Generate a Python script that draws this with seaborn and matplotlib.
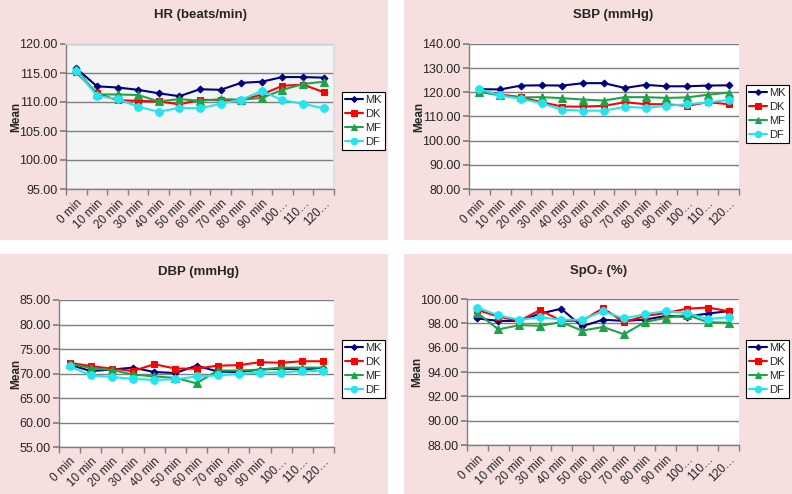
import matplotlib
matplotlib.use("Agg")
import matplotlib.pyplot as plt
from matplotlib.patches import Rectangle
from matplotlib.ticker import FixedLocator, FuncFormatter
import seaborn as sns
import pandas as pd
import numpy as np

# categorie (tempo)
times = ["0 min", "10 min", "20 min", "30 min", "40 min", "50 min", "60 min",
         "70 min", "80 min", "90 min", "100…", "110…", "120…"]
groups = ["MK", "DK", "MF", "DF"]

# HR (beats/min)
hr_mk = [115.8, 112.7, 112.5, 112.1, 111.5, 111.0, 112.2, 112.1, 113.3, 113.5, 114.3, 114.3, 114.2]
hr_dk = [115.1, 111.5, 110.3, 110.2, 110.1, 109.6, 110.4, 110.3, 110.3, 111.3, 112.8, 113.0, 111.7]
hr_mf = [115.7, 111.3, 111.3, 111.2, 110.1, 110.5, 110.2, 110.5, 110.4, 110.7, 112.1, 113.1, 113.5]
hr_df = [115.4, 111.1, 110.5, 109.2, 108.3, 109.0, 108.9, 109.7, 110.4, 111.9, 110.3, 109.7, 108.9]

# SBP (mmHg)
sbp_mk = [121.3, 121.2, 122.8, 122.9, 122.8, 123.8, 123.8, 121.8, 123.1, 122.5, 122.5, 122.8, 122.9]
sbp_dk = [120.5, 119.1, 118.0, 115.9, 114.1, 114.1, 114.4, 115.9, 115.1, 115.1, 114.4, 115.9, 115.1]
sbp_mf = [120.2, 118.7, 117.9, 118.0, 117.6, 117.0, 116.6, 118.0, 118.0, 117.7, 117.9, 119.0, 119.9]
sbp_df = [121.3, 118.7, 117.3, 115.5, 112.8, 112.4, 112.4, 114.0, 113.6, 114.4, 115.1, 115.8, 116.9]

# DBP (mmHg)
dbp_mk = [71.8, 70.5, 70.8, 71.2, 70.3, 70.1, 71.6, 70.4, 70.3, 70.8, 71.0, 70.8, 71.2]
dbp_dk = [72.2, 71.5, 71.0, 70.5, 71.9, 71.0, 71.0, 71.6, 71.7, 72.3, 72.2, 72.5, 72.5]
dbp_mf = [72.0, 71.1, 70.7, 69.8, 69.4, 69.1, 68.0, 70.6, 70.6, 70.8, 71.2, 71.2, 71.2]
dbp_df = [71.5, 69.6, 69.3, 68.9, 68.7, 68.8, 69.4, 69.6, 69.9, 70.2, 70.2, 70.5, 70.5]

# SpO2 (%)
spo2_mk = [98.4, 98.2, 98.2, 98.8, 99.2, 97.75, 98.3, 98.2, 98.3, 98.6, 98.55, 98.8, 99.0]
spo2_dk = [99.1, 98.55, 98.2, 99.1, 98.2, 98.2, 99.25, 98.1, 98.6, 98.85, 99.2, 99.3, 99.0]
spo2_mf = [98.85, 97.5, 97.85, 97.8, 98.1, 97.4, 97.7, 97.1, 98.1, 98.45, 98.7, 98.1, 98.05]
spo2_df = [99.3, 98.65, 98.3, 98.5, 98.3, 98.3, 99.0, 98.4, 98.75, 99.0, 98.85, 98.35, 98.5]

palette = {"MK": "#000080", "DK": "#FF0000", "MF": "#1FA34A", "DF": "#22E5F0"}
markers = {"MK": "D", "DK": "s", "MF": "^", "DF": "o"}
msizes = {"MK": 3.5, "DK": 5, "MF": 5.5, "DF": 5.5}

W, H = 792, 494
PINK = "#F5DFDF"

sns.set_theme(style="white")
plt.rcParams["font.family"] = ["Liberation Sans", "DejaVu Sans"]

fig = plt.figure(figsize=(W / 100, H / 100), dpi=100)
fig.patch.set_facecolor("white")

# sfondi rosa dei pannelli
for (x0, y0, w, h) in [(0, 0, 388, 240), (404, 0, 388, 240), (0, 254, 388, 240), (404, 254, 388, 240)]:
    fig.patches.append(Rectangle((x0 / W, 1 - (y0 + h) / H), w / W, h / H,
                                 transform=fig.transFigure, facecolor=PINK, edgecolor="none", zorder=-10))


def make_df(mk, dk, mf, df):
    rows = []
    for g, vals in zip(groups, [mk, dk, mf, df]):
        for i, v in enumerate(vals):
            rows.append({"pos": i, "time": times[i], "group": g, "Mean": v})
    return pd.DataFrame(rows)


def panel(rect_px, data, title, title_px, ylim, ystep, legend_px, plot_bg="white"):
    x0, y0, x1, y1 = rect_px
    ax = fig.add_axes([x0 / W, 1 - y1 / H, (x1 - x0) / W, (y1 - y0) / H])
    ax.set_zorder(1)
    ax.set_facecolor(plot_bg)
    for g in groups:
        sub = data[data["group"] == g]
        sns.lineplot(data=sub, x="pos", y="Mean", ax=ax, color=palette[g], marker=markers[g],
                     markersize=msizes[g], markeredgecolor=palette[g], linewidth=1.5,
                     label=g, legend=False, zorder=3)
    ax.set_xlim(-0.5, len(times) - 0.5)
    ax.set_ylim(*ylim)
    yt = np.arange(ylim[0], ylim[1] + 0.001, ystep)
    ax.set_yticks(yt)
    ax.yaxis.set_major_formatter(FuncFormatter(lambda v, p: f"{v:.2f}"))
    ax.yaxis.grid(True, color="#7F7F7F", linewidth=1)
    ax.xaxis.grid(False)
    ax.set_axisbelow(True)
    ax.set_xticks(range(len(times)))
    ax.set_xticklabels(times, rotation=45, ha="right", rotation_mode="anchor", fontsize=8.5)
    ax.xaxis.set_minor_locator(FixedLocator(np.arange(-0.5, len(times), 1.0)))
    ax.tick_params(axis="x", which="major", length=0, pad=6)
    ax.tick_params(axis="x", which="minor", length=4, color="#808080", direction="out", bottom=True)
    ax.tick_params(axis="y", length=4, color="#808080", direction="out", left=True, labelsize=9, pad=2)
    for s in ["left", "bottom"]:
        ax.spines[s].set_color("#808080")
        ax.spines[s].set_linewidth(1)
    for s in ["top", "right"]:
        ax.spines[s].set_visible(plot_bg != "white")
        ax.spines[s].set_color("#DDDDDD")
    ax.set_xlabel("")
    ax.set_ylabel("Mean", fontsize=8.5, fontweight="bold", labelpad=-2)
    fig.text(title_px[0] / W, 1 - title_px[1] / H, title, ha="center", va="center",
             fontsize=9.5, fontweight="bold")
    h, l = ax.get_legend_handles_labels()
    leg = fig.legend(h, l, loc="upper left", bbox_to_anchor=(legend_px[0] / W, 1 - legend_px[1] / H),
                     frameon=True, fancybox=False, edgecolor="black", facecolor="white", framealpha=1,
                     fontsize=8, handlelength=1.6, handletextpad=0.15, borderpad=0.3,
                     labelspacing=0.35, borderaxespad=0, markerscale=0.85)
    leg.get_frame().set_linewidth(0.8)
    leg.set_zorder(5)
    return ax


panel((66, 44, 334, 189), make_df(hr_mk, hr_dk, hr_mf, hr_df), "HR (beats/min)", (200, 15),
      (95, 120), 5, (342, 92), plot_bg="#F4F4F4")
panel((469, 44, 739, 189), make_df(sbp_mk, sbp_dk, sbp_mf, sbp_df), "SBP (mmHg)", (613, 15),
      (80, 140), 10, (746, 85))
panel((59, 300, 334, 447), make_df(dbp_mk, dbp_dk, dbp_mf, dbp_df), "DBP (mmHg)", (198, 272),
      (55, 85), 5, (342, 340))
panel((467, 299, 739, 445), make_df(spo2_mk, spo2_dk, spo2_mf, spo2_df), "SpO₂ (%)", (599, 271),
      (88, 100), 2, (746, 340))

fig.savefig("out.png", dpi=100, facecolor=fig.get_facecolor())
